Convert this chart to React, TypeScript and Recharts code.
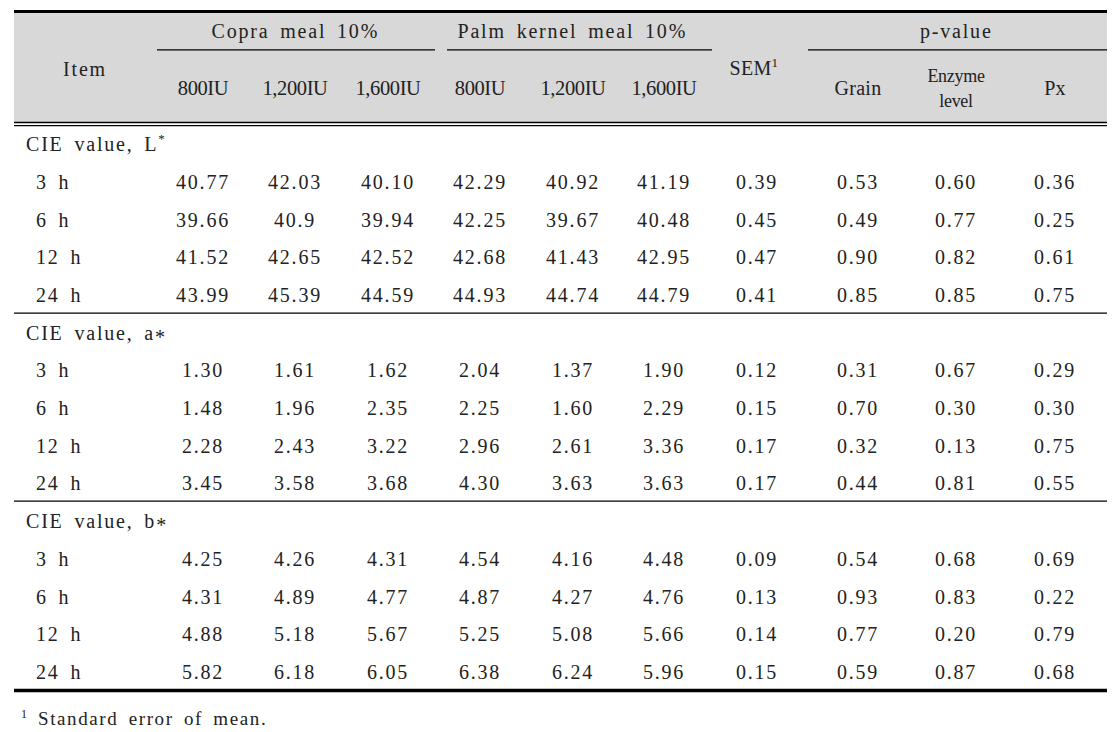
import React from 'react';
import { ScatterChart, Scatter, XAxis, YAxis, ReferenceLine, ReferenceArea } from 'recharts';

// ---- table content ----
const groupHeads = ['Copra meal 10%', 'Palm kernel meal 10%'];
const doses = ['800IU', '1,200IU', '1,600IU'];
const sectionTitles = ['CIE value, L', 'CIE value, a', 'CIE value, b'];
const hours = ['3 h', '6 h', '12 h', '24 h'];

const lightness = [
  ['40.77', '42.03', '40.10', '42.29', '40.92', '41.19', '0.39', '0.53', '0.60', '0.36'],
  ['39.66', '40.9', '39.94', '42.25', '39.67', '40.48', '0.45', '0.49', '0.77', '0.25'],
  ['41.52', '42.65', '42.52', '42.68', '41.43', '42.95', '0.47', '0.90', '0.82', '0.61'],
  ['43.99', '45.39', '44.59', '44.93', '44.74', '44.79', '0.41', '0.85', '0.85', '0.75'],
];
const redness = [
  ['1.30', '1.61', '1.62', '2.04', '1.37', '1.90', '0.12', '0.31', '0.67', '0.29'],
  ['1.48', '1.96', '2.35', '2.25', '1.60', '2.29', '0.15', '0.70', '0.30', '0.30'],
  ['2.28', '2.43', '3.22', '2.96', '2.61', '3.36', '0.17', '0.32', '0.13', '0.75'],
  ['3.45', '3.58', '3.68', '4.30', '3.63', '3.63', '0.17', '0.44', '0.81', '0.55'],
];
const yellowness = [
  ['4.25', '4.26', '4.31', '4.54', '4.16', '4.48', '0.09', '0.54', '0.68', '0.69'],
  ['4.31', '4.89', '4.77', '4.87', '4.27', '4.76', '0.13', '0.93', '0.83', '0.22'],
  ['4.88', '5.18', '5.67', '5.25', '5.08', '5.66', '0.14', '0.77', '0.20', '0.79'],
  ['5.82', '6.18', '6.05', '6.38', '6.24', '5.96', '0.15', '0.59', '0.87', '0.68'],
];
const sections = [lightness, redness, yellowness];

// ---- layout (x in px, y in row units) ----
const COL_X = [203, 295, 388, 480, 573, 664, 757, 858, 956, 1055];
const LEFT = 14;
const RIGHT = 1107;
const Y_DOMAIN: [number, number] = [-3.824, 15.593];
const avg = (a: number[]) => a.reduce((s, v) => s + v, 0) / a.length;

type Cell = { x: number; y: number; text: string; kind: string; anchor?: string; sup?: string; mid?: string };

const cells: Cell[] = [];
// header
cells.push({ x: 85, y: -2, text: 'Item', kind: 'batang' });
groupHeads.forEach((g, i) =>
  cells.push({ x: avg(COL_X.slice(i * 3, i * 3 + 3)), y: -3, text: g, kind: 'batang' })
);
[0, 1].forEach((g) =>
  doses.forEach((d, j) => cells.push({ x: COL_X[g * 3 + j], y: -1.5, text: d, kind: 'dose' }))
);
cells.push({ x: COL_X[6] - 3, y: -2.02, text: 'SEM', kind: 'times', sup: '1' });
cells.push({ x: avg(COL_X.slice(7)), y: -3, text: 'p-value', kind: 'batang' });
cells.push({ x: COL_X[7], y: -1.5, text: 'Grain', kind: 'times' });
cells.push({ x: COL_X[8], y: -1.5, text: 'Enzyme level', kind: 'enzyme' });
cells.push({ x: COL_X[9], y: -1.5, text: 'Px', kind: 'times' });
// body
sections.forEach((rows, s) => {
  const base = s * 5;
  cells.push({
    x: 26, y: base, text: sectionTitles[s], kind: 'batang', anchor: 'start',
    ...(s === 0 ? { sup: '*' } : { mid: '*' }),
  });
  rows.forEach((vals, h) => {
    cells.push({ x: 36, y: base + 1 + h, text: hours[h], kind: 'batang', anchor: 'start' });
    vals.forEach((v, c) => cells.push({ x: COL_X[c], y: base + 1 + h, text: v, kind: 'batang' }));
  });
});
// footnote
cells.push({ x: 38, y: 15.22, text: 'Standard error of mean.', kind: 'note', anchor: 'start', sup: '1' });

const FONT = '"Liberation Serif", "Times New Roman", serif';
const STYLES: Record<string, React.CSSProperties> = {
  batang: { fontSize: 20, letterSpacing: 1.8, wordSpacing: 4 },
  note: { fontSize: 19, letterSpacing: 1.6, wordSpacing: 4 },
  dose: { fontSize: 20.5, letterSpacing: -0.4 },
  times: { fontSize: 20, letterSpacing: 0.3 },
  enzyme: { fontSize: 18, letterSpacing: -0.3 },
};

function TextCell(props: any) {
  const { cx, cy, payload } = props;
  const c: Cell = payload;
  const style = { fontFamily: FONT, fill: '#222', ...STYLES[c.kind] };
  if (c.kind === 'enzyme') {
    const [a, b] = c.text.split(' ');
    return (
      <text x={cx} y={cy} textAnchor="middle" style={style}>
        <tspan x={cx} dy={-6}>{a}</tspan>
        <tspan x={cx} dy={25}>{b}</tspan>
      </text>
    );
  }
  if (c.kind === 'note') {
    return (
      <text x={cx} y={cy + 7} textAnchor="start" style={style}>
        <tspan x={cx - 17} dy={-7} fontSize={12}>{c.sup}</tspan>
        <tspan x={cx} dy={7}>{c.text}</tspan>
      </text>
    );
  }
  return (
    <text x={cx} y={cy} dy="0.35em" textAnchor={c.anchor || 'middle'} style={style}>
      {c.text}
      {c.sup && <tspan dy={-8} fontSize={13}>{c.sup}</tspan>}
      {c.mid && <tspan dy={4}>{c.mid}</tspan>}
    </text>
  );
}

const hLine = (v: number, w: number, x1 = LEFT, x2 = RIGHT) => (
  <ReferenceLine
    key={`${v}-${x1}`}
    segment={[{ x: x1, y: v }, { x: x2, y: v }]}
    stroke="#000"
    strokeWidth={w}
  />
);

export default function App() {
  return (
    <div style={{ position: 'absolute', left: 0, top: 0, width: 1120, height: 732, background: '#fff' }}>
      <ScatterChart width={1120} height={732} margin={{ top: 0, right: 0, bottom: 0, left: 0 }}>
        <XAxis type="number" dataKey="x" domain={[0, 1120]} hide />
        <YAxis type="number" dataKey="y" domain={Y_DOMAIN} reversed hide />
        <ReferenceArea x1={LEFT} x2={RIGHT} y1={-3.5} y2={-0.574} fill="#d8d8d8" fillOpacity={1} stroke="none" />
        {hLine(-3.52, 3)}
        {hLine(-2.5, 1.2, 157, 435)}
        {hLine(-2.5, 1.2, 447, 712)}
        {hLine(-2.5, 1.2, 808, RIGHT)}
        {hLine(-0.574, 1.3)}
        {hLine(-0.494, 1.3)}
        {hLine(4.48, 1.3)}
        {hLine(9.47, 1.3)}
        {hLine(14.49, 3.5)}
        <Scatter data={cells} isAnimationActive={false} shape={(p: any) => <TextCell {...p} />} />
      </ScatterChart>
    </div>
  );
}
